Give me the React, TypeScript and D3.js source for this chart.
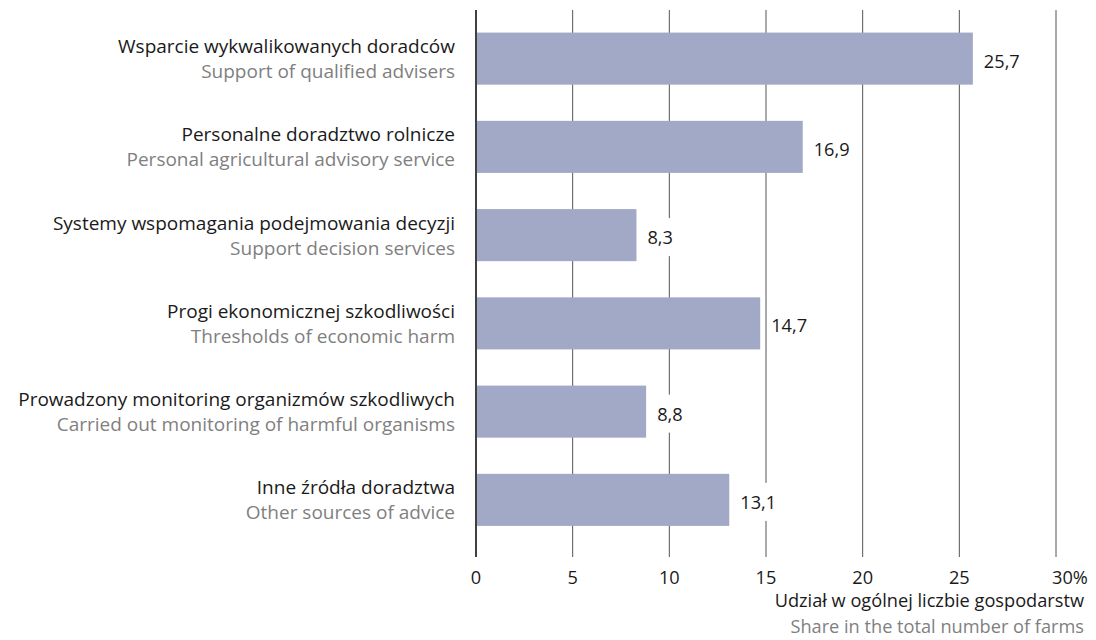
import React from "react";
import * as d3 from "d3";

const categoriesPl = [
  "Wsparcie wykwalikowanych doradców",
  "Personalne doradztwo rolnicze",
  "Systemy wspomagania podejmowania decyzji",
  "Progi ekonomicznej szkodliwości",
  "Prowadzony monitoring organizmów szkodliwych",
  "Inne źródła doradztwa",
];
const categoriesEn = [
  "Support of qualified advisers",
  "Personal agricultural advisory service",
  "Support decision services",
  "Thresholds of economic harm",
  "Carried out monitoring of harmful organisms",
  "Other sources of advice",
];
const values = [25.7, 16.9, 8.3, 14.7, 8.8, 13.1];
const ticks = [0, 5, 10, 15, 20, 25, 30];
const axisTitlePl = "Udział w ogólnej liczbie gospodarstw";
const axisTitleEn = "Share in the total number of  farms";

const W = 1096;
const H = 640;
const FONT = "'Open Sans', sans-serif";
const FS_CAT = 19;
const FS = 18.2;
const BAR = "#a2a9c7";
const GRAY = "#7f7f7f";
const INK = "#1a1a1a";

export default function App() {
  const x = d3.scaleLinear().domain([0, 30]).range([476, 1056]);
  const y = d3
    .scaleBand<number>()
    .domain(d3.range(values.length))
    .range([14.5, 544])
    .paddingInner(0.41)
    .paddingOuter(0.205);
  const fmt = (v: number) => v.toFixed(1).replace(".", ",");
  const gridTop = 10;
  const gridBottom = 557;

  return (
    <svg
      width={W}
      height={H}
      style={{ position: "absolute", left: 0, top: 0, background: "#fff" }}
      fontFamily={FONT}
    >
      <rect width={W} height={H} fill="#fff" />
      {ticks.map((t) => (
        <line
          key={"g" + t}
          x1={x(t)}
          x2={x(t)}
          y1={gridTop}
          y2={gridBottom}
          stroke={t === 0 ? "#111" : "#555"}
          strokeWidth={t === 0 ? 1.6 : 1}
        />
      ))}
      {values.map((v, i) => {
        const yc = (y(i) as number) + y.bandwidth() / 2;
        const lx = x(v) + 11;
        const label = fmt(v);
        const lw = label.length * FS * 0.5;
        return (
          <g key={"b" + i}>
            <rect
              x={x(0) + 1}
              y={y(i)}
              width={x(v) - x(0) - 1}
              height={y.bandwidth()}
              fill={BAR}
            />
            <rect x={lx - 4} y={yc - 17} width={lw + 8} height={38} fill="#fff" />
            <text x={lx} y={yc + 9} fontSize={FS} fill={INK}>
              {label}
            </text>
            <text x={455} y={yc - 5.5} fontSize={FS_CAT} fill={INK} textAnchor="end">
              {categoriesPl[i]}
            </text>
            <text x={455} y={yc + 19.5} fontSize={FS_CAT} fill={GRAY} textAnchor="end">
              {categoriesEn[i]}
            </text>
          </g>
        );
      })}
      {ticks.map((t, i) => {
        const last = i === ticks.length - 1;
        return (
          <text
            key={"t" + t}
            x={last ? x(t) - 4 : x(t)}
            y={584}
            fontSize={FS}
            fill={INK}
            textAnchor={last ? "start" : "middle"}
          >
            {last ? t + "%" : t}
          </text>
        );
      })}
      <text x={1084} y={607} fontSize={FS} fill={INK} textAnchor="end">
        {axisTitlePl}
      </text>
      <text x={1084} y={633} fontSize={FS} fill={GRAY} textAnchor="end">
        {axisTitleEn}
      </text>
    </svg>
  );
}
